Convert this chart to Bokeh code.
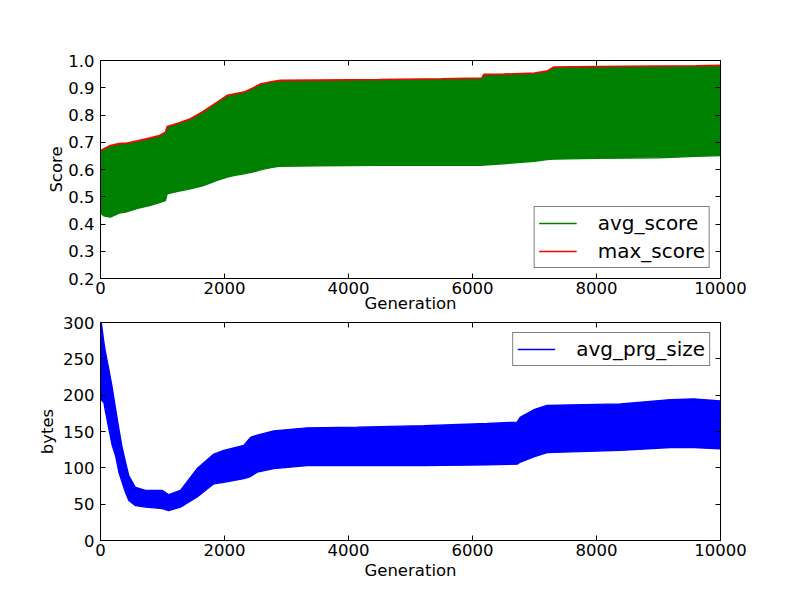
from bokeh.plotting import figure
from bokeh.models import Range1d, FixedTicker, LinearAxis, Legend, LegendItem, NumeralTickFormatter
from bokeh.layouts import column
from bokeh.embed import file_html
from bokeh.resources import INLINE

# ---- data ----
gen_top = [0, 50, 160, 300, 430, 600, 806, 950, 1048, 1075,
           1250, 1452, 1650, 1882, 2043, 2150, 2312, 2450, 2581, 2750,
           2903, 3500, 4500, 5500, 6150, 6183, 6500, 7000, 7200, 7312,
           8000, 9000, 9600, 10000]
max_score = [0.670, 0.675, 0.688, 0.695, 0.697, 0.705, 0.716, 0.725, 0.737, 0.758,
             0.770, 0.786, 0.812, 0.847, 0.872, 0.877, 0.884, 0.898, 0.914, 0.922,
             0.927, 0.928, 0.930, 0.933, 0.936, 0.949, 0.950, 0.954, 0.961, 0.976,
             0.978, 0.980, 0.981, 0.982]
avg_score_min = [0.440, 0.430, 0.425, 0.440, 0.445, 0.457, 0.468, 0.478, 0.486, 0.511,
                 0.520, 0.529, 0.540, 0.560, 0.572, 0.578, 0.584, 0.590, 0.599, 0.607,
                 0.612, 0.613, 0.615, 0.615, 0.615, 0.616, 0.621, 0.630, 0.636, 0.638,
                 0.641, 0.643, 0.648, 0.651]

gen_bot = [0, 16, 54, 81, 134, 188, 242, 296, 349, 403,
           457, 565, 726, 995, 1100, 1290, 1559, 1828, 1989, 2312,
           2419, 2527, 2796, 3333, 4140, 5215, 6237, 6720, 6774, 6989,
           7204, 8387, 9194, 9570, 10000]
prg_size_max = [300, 298, 273, 259, 236, 211, 182, 154, 128, 108,
                89, 73, 69, 69, 63, 69, 99, 119, 124, 131,
                142, 145, 151, 155, 156, 158, 161, 163, 170, 180,
                186, 188, 194, 195, 192]
prg_size_min = [200, 193, 190, 177, 154, 131, 117, 94, 80, 66,
                55, 48, 46, 44, 41, 46, 60, 78, 80, 85,
                88, 94, 99, 103, 103, 103, 104, 105, 108, 115,
                121, 124, 128, 128, 126]

x_ticks = [0, 2000, 4000, 6000, 8000, 10000]
score_ticks = [0.2, 0.3, 0.4, 0.5, 0.6, 0.7, 0.8, 0.9, 1.0]
bytes_ticks = [0, 50, 100, 150, 200, 250, 300]

FONT = "DejaVu Sans"
TICK_SIZE = "16.5px"


def style_axis(ax, ticks, show_labels, fmt=None):
    ax.ticker = FixedTicker(ticks=ticks)
    ax.major_tick_in = 5
    ax.major_tick_out = 0
    ax.minor_tick_in = 0
    ax.minor_tick_out = 0
    ax.axis_line_color = "black"
    ax.major_tick_line_color = "black"
    ax.major_label_text_color = "black"
    ax.major_label_text_font = FONT
    ax.axis_label_text_font = FONT
    ax.axis_label_text_font_style = "normal"
    ax.axis_label_text_color = "black"
    ax.axis_label_text_font_size = TICK_SIZE
    if fmt is not None:
        ax.formatter = fmt
    if show_labels:
        ax.major_label_text_font_size = TICK_SIZE
    else:
        ax.major_label_overrides = {t: "" for t in ticks}
        ax.major_label_text_font_size = "1px"
        ax.major_label_standoff = 0


def make_fig(y_range, yticks, yfmt, ylabel, ylabel_standoff, top_border, bottom_border,
             xlabel_standoff):
    p = figure(frame_width=620, frame_height=218, x_range=Range1d(0, 10000),
               y_range=y_range, output_backend="svg", toolbar_location=None,
               min_border_left=100, min_border_right=72,
               min_border_top=top_border, min_border_bottom=bottom_border,
               background_fill_color="white", border_fill_color="white")
    p.xgrid.visible = False
    p.ygrid.visible = False
    p.outline_line_color = "black"
    p.outline_line_width = 1
    style_axis(p.xaxis[0], x_ticks, True)
    p.xaxis[0].major_label_standoff = 3
    p.xaxis[0].axis_label_standoff = xlabel_standoff
    p.xaxis[0].axis_label = "Generation"
    style_axis(p.yaxis[0], yticks, True, yfmt)
    p.yaxis[0].major_label_standoff = 6
    p.yaxis[0].axis_label_standoff = ylabel_standoff
    p.yaxis[0].axis_label = ylabel
    top = LinearAxis()
    style_axis(top, x_ticks, False)
    p.add_layout(top, "above")
    right = LinearAxis()
    style_axis(right, yticks, False)
    p.add_layout(right, "right")
    return p


def make_legend(items, location):
    lg = Legend(items=items, location=location, margin=10, padding=4, spacing=4,
                glyph_width=38, glyph_height=24, label_height=24, label_standoff=21,
                label_text_font=FONT, label_text_font_size="20px",
                label_text_color="black", border_line_color="black",
                border_line_width=1, background_fill_color="white",
                background_fill_alpha=1.0)
    return lg


# ---- top: scores ----
p1 = make_fig(Range1d(0.2, 1.0), score_ticks, NumeralTickFormatter(format="0.0"),
              "Score", -1, 60, 30, -3)
p1.varea(x=gen_top, y1=avg_score_min, y2=max_score, fill_color="green", fill_alpha=1.0)
r_avg = p1.line(gen_top, avg_score_min, line_color="green", line_width=1.3)
r_max = p1.line(gen_top, max_score, line_color="red", line_width=1.6)
p1.add_layout(make_legend([LegendItem(label="avg_score", renderers=[r_avg]),
                           LegendItem(label="max_score", renderers=[r_max])],
                          "bottom_right"))

# ---- bottom: program size ----
p2 = make_fig(Range1d(0, 300), bytes_ticks, NumeralTickFormatter(format="0"),
              "bytes", 3, 7, 50, 2)
p2.varea(x=gen_bot, y1=prg_size_min, y2=prg_size_max, fill_color="blue", fill_alpha=1.0)
r_size = p2.line(gen_bot, prg_size_min, line_color="blue", line_width=1.3)
p2.line(gen_bot, prg_size_max, line_color="blue", line_width=1.3)
p2.add_layout(make_legend([LegendItem(label="avg_prg_size", renderers=[r_size])],
                          "top_right"))

layout = column(p1, p2, spacing=0)
open("out.html", "w").write(file_html(layout, INLINE))
